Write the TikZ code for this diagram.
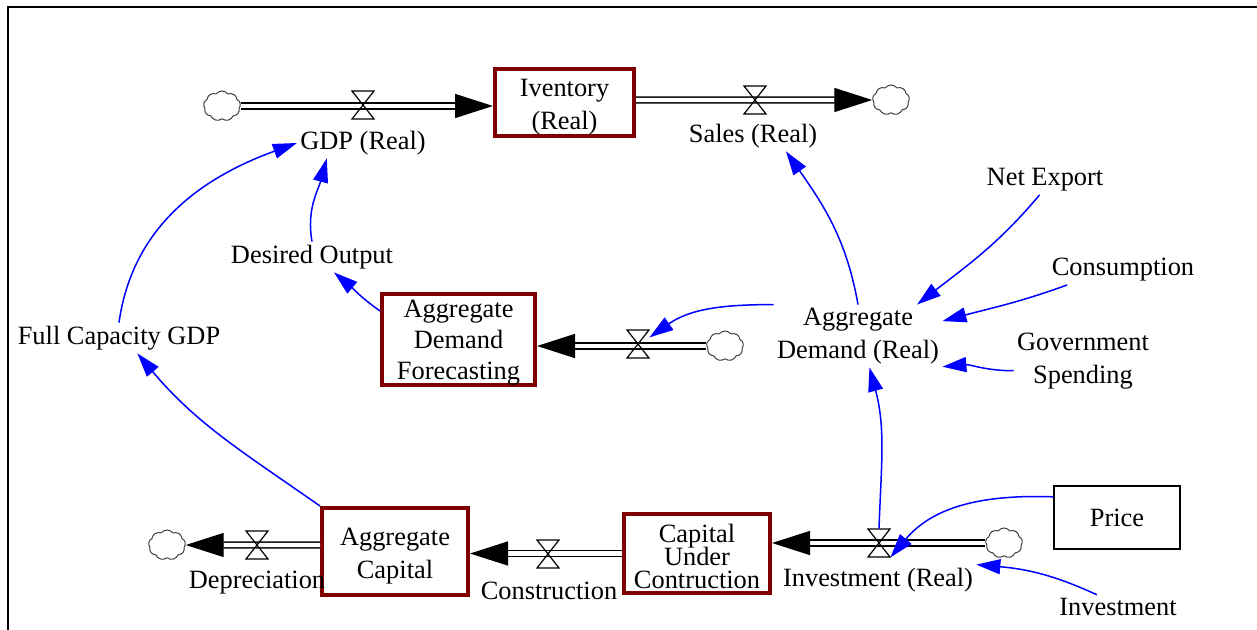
\documentclass[tikz,border=0pt]{standalone}
\usepackage{fontspec}
\setmainfont{Liberation Serif}
\usetikzlibrary{arrows.meta,shapes.symbols}
\definecolor{stockred}{RGB}{128,0,0}
\definecolor{linkblue}{RGB}{0,0,255}
\tikzset{
  valve/.pic={\draw[line width=0.6pt] (-11,-14) -- (11,-14) -- (-11,14) -- (11,14) -- cycle;},
}
\begin{document}
\begin{tikzpicture}[x=0.5pt,y=-0.5pt,
  every node/.style={font=\fontsize{13.2}{16.5}\selectfont, align=center},
  txt/.style={inner sep=1.5pt, yshift=-1.5pt},
  stock/.style={draw=stockred, line width=2pt, fill=white, inner sep=0pt},
  stocktext/.style={inner sep=0pt, yshift=-2.5pt},
  conv/.style={draw=black, line width=0.6pt, inner sep=0pt},
  valvept/.style={minimum width=11pt, minimum height=14pt, inner sep=0pt},
  sink/.style={cloud, cloud puffs=9, cloud puff arc=105, aspect=1.25, draw=black!75,
    line width=0.5pt, minimum width=18.5pt, minimum height=15pt, inner sep=0pt},
  pipe/.style={draw=black, line width=0.7pt, double=white, double distance=2.2pt,
    -{Triangle[length=19pt,width=12pt]}},
  link/.style={draw=linkblue, line width=0.75pt,
    -{Triangle[length=12pt,width=7.5pt,fill=linkblue]}},
]
\useasboundingbox (0,0) rectangle (1257,630);
% frame
\draw[line width=1pt] (8,630) -- (8,7) -- (1257,7);

% stocks
\node[stock, minimum width=69.5pt, minimum height=33.5pt,
  label={[stocktext]center:{Iventory\\(Real)}}] (inv) at (564.5,102.5) {};
\node[stock, minimum width=76.5pt, minimum height=45.5pt,
  label={[stocktext, yshift=1pt, font=\fontsize{13.2}{15.6}\selectfont]center:{Aggregate\\Demand\\Forecasting}}] (adf) at (458.5,339.5) {};
\node[stock, minimum width=73pt, minimum height=39.5pt,
  label={[stocktext, yshift=1pt, font={\fontsize{13.2}{11.5}\selectfont\lineskiplimit=-20pt}]center:{Capital\\Under\\Contruction}}] (cuc) at (697,553.5) {};
\node[stock, minimum width=73pt, minimum height=43.5pt,
  label={[stocktext]center:{Aggregate\\Capital}}] (acap) at (395,551.5) {};

% sources and sinks
\node[sink] (cl1) at (222,106) {};
\node[sink] (cl2) at (891,100) {};
\node[sink] (cl3) at (725,346) {};
\node[sink] (cl4) at (1004,543) {};
\node[sink] (cl5) at (167,545) {};

% valve positions
\node[valvept] (vgdp) at (363,105) {};
\node[valvept] (vsales) at (755,100) {};
\node[valvept] (vadf) at (638,344) {};
\node[valvept] (vinv) at (879,543) {};
\node[valvept] (vcons) at (548,554) {};
\node[valvept] (vdep) at (257,545) {};

% flow pipes
\draw[pipe] (cl1.east) -- (cl1.east -| inv.west);
\draw[pipe] (inv.east |- cl2) -- (cl2.west);
\draw[pipe] (cl3.west) -- (cl3.west -| adf.east);
\draw[pipe] (cl4.west) -- (cl4.west -| cuc.east);
\draw[pipe] (cuc.west) -- (cuc.west -| acap.east);
\draw[pipe] (acap.west |- cl5) -- (cl5.east);

% valves
\foreach \v in {vgdp,vsales,vadf,vinv,vcons,vdep} \pic at (\v) {valve};

% flow names
\node[txt] (gdp) at (363,140) {GDP (Real)};
\node[txt] (sales) at (753,133) {Sales (Real)};
\node[txt] (invlab) at (878,577) {Investment (Real)};
\node[txt] (conslab) at (549,588) {Construction};
\node[txt] (deplab) at (257,580) {Depreciation};

% auxiliaries
\node[txt] (desired) at (312,254) {Desired Output};
\node[txt] (fcgdp) at (119,335) {Full Capacity GDP};
\node[txt] (ad) at (858,333) {Aggregate\\Demand (Real)};
\node[txt] (netexp) at (1045,177) {Net Export};
\node[txt] (cons) at (1123,267) {Consumption};
\node[txt] (gov) at (1083,358) {Government\\Spending};
\node[conv, minimum width=63pt, minimum height=31.5pt] (price) at (1117,517.5) {Price};
\node[txt] (invest) at (1118,604) {Investment};

% information links
\draw[link] (fcgdp.north) to[out=82,in=200] (gdp.west);
\draw[link] (desired.north) to[out=100,in=255] (gdp.203);
\draw[link] (adf.160) to[out=145,in=-40] (desired.-35);
\draw[link] (acap.north west) to[out=145,in=-50] (fcgdp.-40);
\draw[link] (ad.north) to[out=100,in=-55] (sales.-25);
\draw[link] (ad.north west) to[out=180,in=35] (vadf.30);
\draw[link] (netexp.-110) to[out=-130,in=38] (ad.28);
\draw[link] (cons.-165) to[out=-160,in=15] (ad.10);
\draw[link] (gov.-172) to[out=180,in=5] (ad.-20);
\draw[link] (vinv.north) to[out=88,in=-75] (ad.-70);
\draw[link] (price.162) to[out=178,in=50] (vinv.south east);
\draw[link] (invest.150) to[out=155,in=-5] (invlab.north east);
\end{tikzpicture}
\end{document}
